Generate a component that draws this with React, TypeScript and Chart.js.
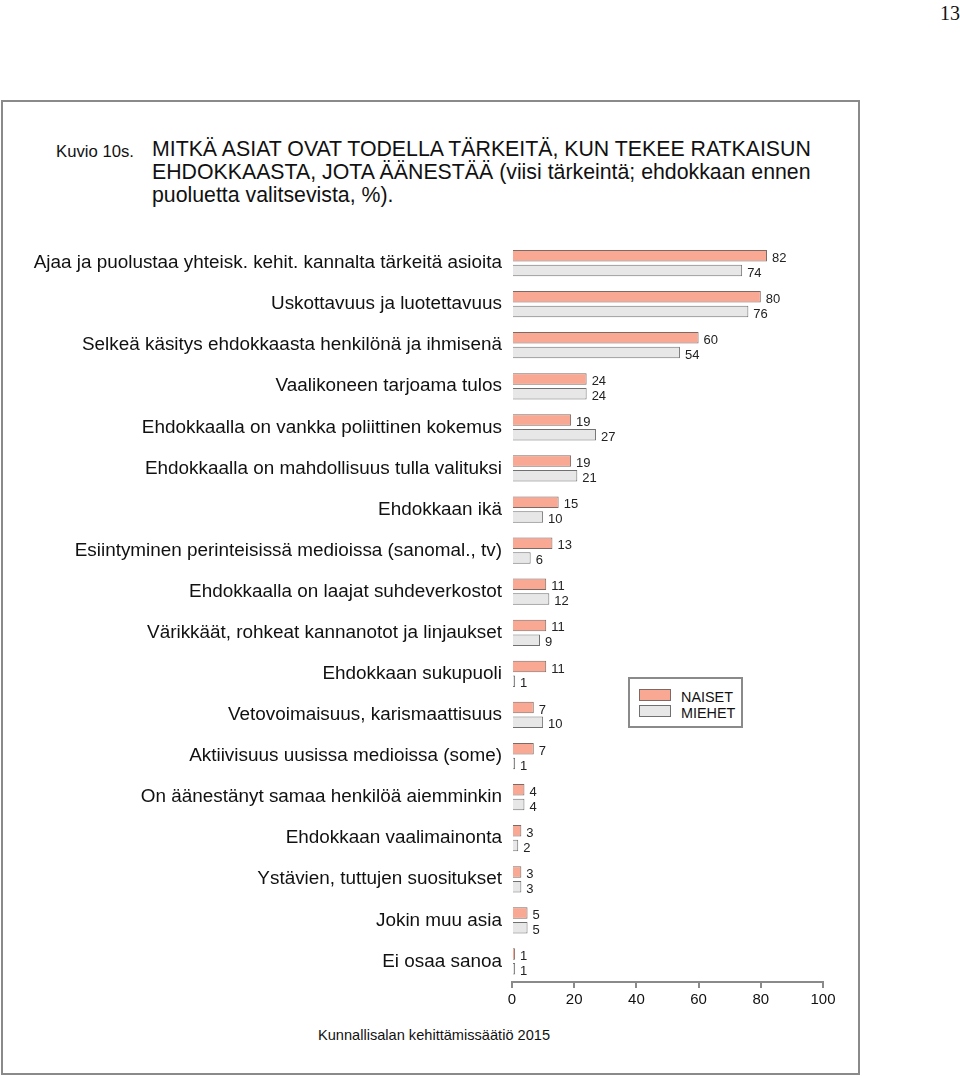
import React, { useEffect, useRef } from "react";
import { Chart, registerables } from "chart.js";

Chart.register(...registerables);

const categories: string[] = [
  "Ajaa ja puolustaa yhteisk. kehit. kannalta tärkeitä asioita",
  "Uskottavuus ja luotettavuus",
  "Selkeä käsitys ehdokkaasta henkilönä ja ihmisenä",
  "Vaalikoneen tarjoama tulos",
  "Ehdokkaalla on vankka poliittinen kokemus",
  "Ehdokkaalla on mahdollisuus tulla valituksi",
  "Ehdokkaan ikä",
  "Esiintyminen perinteisissä medioissa (sanomal., tv)",
  "Ehdokkaalla on laajat suhdeverkostot",
  "Värikkäät, rohkeat kannanotot ja linjaukset",
  "Ehdokkaan sukupuoli",
  "Vetovoimaisuus, karismaattisuus",
  "Aktiivisuus uusissa medioissa (some)",
  "On äänestänyt samaa henkilöä aiemminkin",
  "Ehdokkaan vaalimainonta",
  "Ystävien, tuttujen suositukset",
  "Jokin muu asia",
  "Ei osaa sanoa",
];

const naiset: number[] = [82, 80, 60, 24, 19, 19, 15, 13, 11, 11, 11, 7, 7, 4, 3, 3, 5, 1];
const miehet: number[] = [74, 76, 54, 24, 27, 21, 10, 6, 12, 9, 1, 10, 1, 4, 2, 3, 5, 1];

const seriesNames = ["NAISET", "MIEHET"];
const xTicks: number[] = [0, 20, 40, 60, 80, 100];

const FONT = "'Liberation Sans', Arial, sans-serif";
const WOMEN_FILL = "#F9A893";
const WOMEN_BORDER = "#7d6a64";
const MEN_FILL = "#E7E7E7";
const MEN_BORDER = "#707070";

const CANVAS_LEFT = 0;
const CANVAS_TOP = 221;
const CANVAS_W = 858;
const CANVAS_H = 800;

const valueLabels = {
  id: "valueLabels",
  afterDatasetsDraw(chart: any) {
    const ctx = chart.ctx;
    ctx.save();
    ctx.font = `13px ${FONT}`;
    ctx.fillStyle = "#222";
    ctx.textAlign = "left";
    ctx.textBaseline = "middle";
    chart.data.datasets.forEach((ds: any, di: number) => {
      const meta = chart.getDatasetMeta(di);
      meta.data.forEach((bar: any, i: number) => {
        ctx.fillText(String(ds.data[i]), bar.x + 5, bar.y + 2.5);
      });
    });
    ctx.restore();
  },
};

function BarChart() {
  const ref = useRef<HTMLCanvasElement | null>(null);
  useEffect(() => {
    if (!ref.current) return;
    const chart = new Chart(ref.current, {
      type: "bar",
      data: {
        labels: categories,
        datasets: [
          {
            label: seriesNames[0],
            data: naiset,
            backgroundColor: WOMEN_FILL,
            borderColor: WOMEN_BORDER,
            borderWidth: 1,
            categoryPercentage: 0.72,
            barPercentage: 0.78,
          },
          {
            label: seriesNames[1],
            data: miehet,
            backgroundColor: MEN_FILL,
            borderColor: MEN_BORDER,
            borderWidth: 1,
            categoryPercentage: 0.72,
            barPercentage: 0.78,
          },
        ],
      },
      options: {
        indexAxis: "y",
        animation: false,
        responsive: false,
        maintainAspectRatio: false,
        layout: { padding: { top: 21.5, right: CANVAS_W - 823, bottom: 0, left: 0 } },
        plugins: { legend: { display: false }, tooltip: { enabled: false } },
        scales: {
          x: {
            min: 0,
            max: 100,
            afterBuildTicks: (scale: any) => {
              scale.ticks = xTicks.map((v) => ({ value: v }));
            },
            afterFit: (scale: any) => {
              scale.height = 39;
            },
            grid: {
              display: true,
              drawOnChartArea: false,
              drawTicks: true,
              tickLength: 6,
              color: "#8a8a8a",
              lineWidth: 2,
            },
            border: { display: true, color: "#8a8a8a", width: 2 },
            ticks: {
              color: "#111",
              font: { family: FONT, size: 15 },
              padding: 3,
              maxRotation: 0,
            },
          },
          y: {
            afterFit: (scale: any) => {
              scale.width = 512 - CANVAS_LEFT;
            },
            grid: { display: false, drawTicks: false },
            border: { display: false },
            ticks: {
              color: "#111",
              font: { family: FONT, size: 18.9 },
              padding: 10,
              autoSkip: false,
            },
          },
        },
      } as any,
      plugins: [valueLabels],
    });
    return () => chart.destroy();
  }, []);
  return (
    <canvas
      ref={ref}
      width={CANVAS_W}
      height={CANVAS_H}
      style={{ position: "absolute", left: CANVAS_LEFT, top: CANVAS_TOP, width: CANVAS_W, height: CANVAS_H }}
    />
  );
}

function Txt(props: { x: number; y: number; size: number; children: React.ReactNode; family?: string }) {
  return (
    <div
      style={{
        position: "absolute",
        left: props.x,
        top: props.y - props.size * 0.6,
        fontSize: props.size,
        lineHeight: `${props.size * 1.2}px`,
        fontFamily: props.family || FONT,
        color: "#111",
        whiteSpace: "nowrap",
      }}
    >
      {props.children}
    </div>
  );
}

export default function App() {
  return (
    <div style={{ position: "absolute", left: 0, top: 0, width: 960, height: 1077, background: "#fff" }}>
      <Txt x={940} y={13} size={20} family="'Liberation Serif', 'Times New Roman', serif">13</Txt>
      <div
        style={{
          position: "absolute",
          left: 1,
          top: 100,
          width: 855,
          height: 971,
          border: "2px solid #8a8a8a",
        }}
      />
      <Txt x={56} y={152} size={16.7}>Kuvio 10s.</Txt>
      <Txt x={152} y={150} size={21.3}>MITKÄ ASIAT OVAT TODELLA TÄRKEITÄ, KUN TEKEE RATKAISUN</Txt>
      <Txt x={152} y={173} size={21.3}>EHDOKKAASTA, JOTA ÄÄNESTÄÄ (viisi tärkeintä; ehdokkaan ennen</Txt>
      <Txt x={152} y={196} size={21.3}>puoluetta valitsevista, %).</Txt>
      <BarChart />
      <div
        style={{
          position: "absolute",
          left: 628,
          top: 677,
          width: 111,
          height: 47,
          border: "2px solid #8a8a8a",
          background: "#fff",
        }}
      >
        <div style={{ position: "absolute", left: 9, top: 10, width: 30, height: 10, background: WOMEN_FILL, border: `1px solid ${WOMEN_BORDER}` }} />
        <div style={{ position: "absolute", left: 9, top: 26, width: 30, height: 10, background: MEN_FILL, border: `1px solid ${MEN_BORDER}` }} />
        <div style={{ position: "absolute", left: 51, top: 9.5, fontFamily: FONT, fontSize: 14.4, lineHeight: "17px", color: "#111" }}>{seriesNames[0]}</div>
        <div style={{ position: "absolute", left: 51, top: 25.5, fontFamily: FONT, fontSize: 14.4, lineHeight: "17px", color: "#111" }}>{seriesNames[1]}</div>
      </div>
      <Txt x={318} y={1036} size={14.6}>Kunnallisalan kehittämissäätiö 2015</Txt>
    </div>
  );
}
